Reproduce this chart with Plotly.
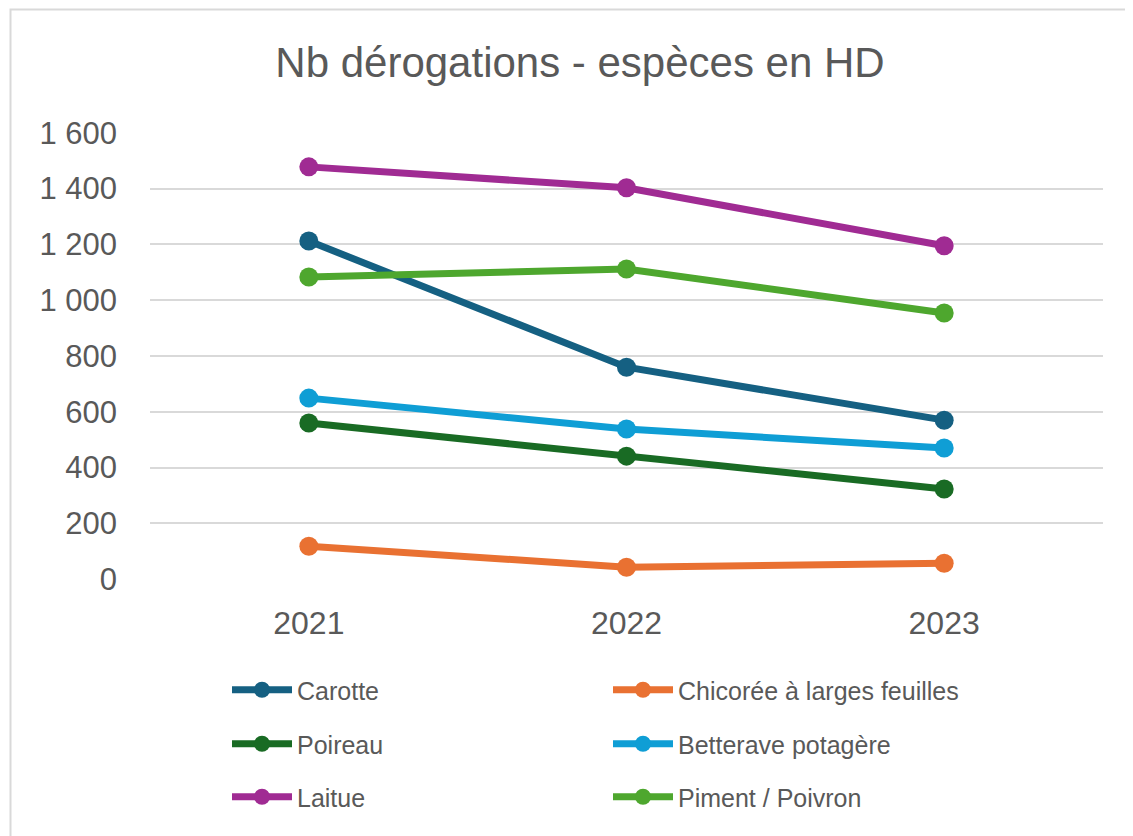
import plotly.graph_objects as go

years = ["2021", "2022", "2023"]
carotte = [1212, 760, 570]
chicoree = [118, 43, 57]
poireau = [560, 441, 323]
betterave = [649, 538, 470]
laitue = [1478, 1403, 1195]
piment = [1083, 1112, 954]

series = [
    ("Carotte", carotte, "#156082"),
    ("Chicorée à larges feuilles", chicoree, "#E97132"),
    ("Poireau", poireau, "#196B24"),
    ("Betterave potagère", betterave, "#0F9ED5"),
    ("Laitue", laitue, "#A02B93"),
    ("Piment / Poivron", piment, "#4EA72E"),
]

# page has an 8px body margin, so work in page pixels and shift by OFF
OFF = 8
W, H = 1133, 836
# plot area in page pixels: x 150..1103, y 132..580 (range -3..1603)
left, right, top, bottom = 150, 1103, 132, 580
ml, mt = left - OFF, top - OFF
pw, ph = right - left, bottom - top
mr = W - ml - pw
mb = H - mt - ph

def px(x):
    return (x - left) / pw

def py(y):
    return (bottom - y) / ph

# legend slots (page pixel positions of each entry)
slots = [(227, 690), (608, 690), (227, 744), (608, 744), (227, 797), (608, 797)]

fig = go.Figure()
layout_legends = {}
for i, (name, vals, col) in enumerate(series):
    lg = "legend" if i == 0 else "legend%d" % (i + 1)
    fig.add_trace(go.Scatter(
        x=years, y=vals, name=name, mode="lines+markers",
        line=dict(color=col, width=7),
        marker=dict(color=col, size=19),
        legend=lg,
    ))
    lx, ly = slots[i]
    layout_legends[lg] = dict(
        x=px(lx), y=py(ly), xanchor="left", yanchor="middle",
        xref="paper", yref="paper",
        font=dict(family="Liberation Sans, Arial, sans-serif", size=25, color="#595959"),
        bgcolor="rgba(0,0,0,0)", itemwidth=60,
    )

fig.update_layout(
    width=W, height=H,
    margin=dict(l=ml, r=mr, t=mt, b=mb),
    paper_bgcolor="white", plot_bgcolor="white",
    title=dict(text="Nb dérogations - espèces en HD", x=(580 - OFF) / W, xanchor="center",
               y=1 - (62 - OFF) / H, yanchor="middle",
               font=dict(family="Liberation Sans, Arial, sans-serif", size=42, color="#595959")),
    showlegend=True,
    **layout_legends,
)

fig.update_xaxes(
    type="category", range=[-0.5, 2.5], showgrid=False, zeroline=False, showline=False,
    ticks="", tickfont=dict(family="Liberation Sans, Arial, sans-serif", size=32, color="#595959"),
    ticklabelstandoff=21,
)
fig.update_yaxes(
    range=[-3, 1603], tickvals=[0, 200, 400, 600, 800, 1000, 1200, 1400, 1600],
    ticktext=["0", "200", "400", "600", "800", "1 000", "1 200", "1 400", "1 600"],
    showgrid=True, gridcolor="#D9D9D9", gridwidth=2, zeroline=False, showline=False,
    tickfont=dict(family="Liberation Sans, Arial, sans-serif", size=31, color="#595959"),
    ticklabelstandoff=32,
)

# chart border (top edge sits just inside the figure)
fig.add_shape(type="rect", xref="paper", yref="paper", layer="below",
              x0=px(10.5), x1=px(1160), y0=py(860), y1=py(9.5),
              fillcolor="rgba(0,0,0,0)", line=dict(color="#D9D9D9", width=2))

fig.write_html("out.html")
